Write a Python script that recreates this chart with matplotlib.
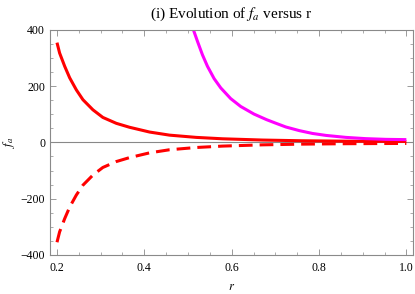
import numpy as np
import matplotlib
matplotlib.use('Agg')
import matplotlib.pyplot as plt
from matplotlib.ticker import MultipleLocator

plt.rcParams['font.family'] = 'Liberation Serif'
plt.rcParams['mathtext.fontset'] = 'stix'

# values
r_red = [0.200, 0.206, 0.2176, 0.229, 0.2443, 0.2594, 0.2823, 0.305, 0.3358,
         0.366, 0.412, 0.4576, 0.5186, 0.579, 0.671, 0.760, 0.860, 0.950, 1.000]
fa_red = [355, 318, 271, 230, 187, 152, 116, 89, 68,
          54, 37, 26, 18, 13, 8.5, 6, 4.5, 3.8, 3.5]

r_mag = [0.5125, 0.5216, 0.533, 0.5445, 0.5598, 0.575, 0.5977, 0.6206, 0.651,
         0.680, 0.700, 0.724, 0.755, 0.785, 0.816, 0.8615, 0.907, 0.953, 1.000]
fa_mag = [400, 360, 312, 271, 227, 194, 156, 128, 101,
          81, 69, 55, 42, 32, 25, 18, 13.5, 11, 10]

fig = plt.figure(figsize=(4.15, 2.94), dpi=100)
ax = fig.add_axes([0.1205, 0.133, 0.8755, 0.765])

ax.axhline(0, color='#888888', lw=0.8, zorder=1)

ax.plot(r_red, fa_red, color='#ff0000', lw=2.2, solid_capstyle='butt',
        solid_joinstyle='round')
ax.plot(r_red, [-v for v in fa_red], color='#ff0000', lw=2.2,
        dashes=(4.5, 2.3), dash_capstyle='butt')
ax.plot(r_mag, fa_mag, color='#ff00ff', lw=2.2, solid_capstyle='butt',
        solid_joinstyle='round')

ax.set_xlim(0.184, 1.016)
ax.set_ylim(-400, 400)
ax.xaxis.set_major_locator(MultipleLocator(0.2))
ax.xaxis.set_minor_locator(MultipleLocator(0.05))
ax.yaxis.set_major_locator(MultipleLocator(200))
ax.yaxis.set_minor_locator(MultipleLocator(50))
ax.set_xticks([0.2, 0.4, 0.6, 0.8, 1.0])
ax.set_xticklabels(['0.2', '0.4', '0.6', '0.8', '1.0'])

for s in ax.spines.values():
    s.set_color('#8a8a8a')
    s.set_linewidth(0.8)
ax.tick_params(which='both', direction='in', top=True, right=True,
               color='#8a8a8a', labelsize=8.5)
ax.tick_params(axis='x', pad=5)
ax.tick_params(which='major', length=4, width=0.6)
ax.tick_params(which='minor', length=2, width=0.5)

ax.set_title('(i) Evolution of $f_a$ versus r', fontsize=11, pad=9)
ax.set_xlabel('$r$', fontsize=9)
ax.set_ylabel('$f_a$', fontsize=9)
ax.yaxis.set_label_coords(-0.09, 0.5)
ax.xaxis.set_label_coords(0.5, -0.115)

fig.savefig('out.png', dpi=100)
